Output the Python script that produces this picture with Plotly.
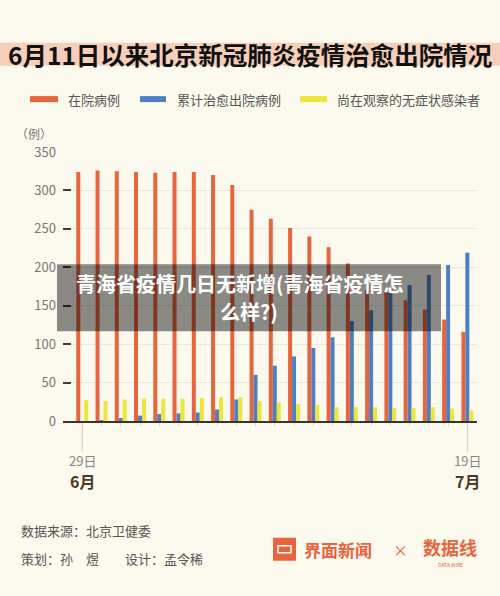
import plotly.graph_objects as go

days = ["29日", "30日", "1日", "2日", "3日", "4日", "5日", "6日", "7日", "8日", "9日",
        "10日", "11日", "12日", "13日", "14日", "15日", "16日", "17日", "18日", "19日"]
hospitalized = [324, 326, 325, 324, 323, 324, 324, 320, 307, 275, 263, 251, 240, 226, 205, 170, 168, 157, 145, 132, 116]
discharged = [0, 1, 4, 7, 9, 10, 11, 15, 28, 60, 72, 84, 95, 109, 130, 144, 167, 177, 190, 203, 219]
asymptomatic = [27, 26, 28, 29, 29, 29, 30, 31, 31, 26, 24, 22, 21, 18, 18, 18, 17, 17, 18, 16, 14]
series_names = ["在院病例", "累计治愈出院病例", "尚在观察的无症状感染者"]
y_ticks = [0, 50, 100, 150, 200, 250, 300, 350]

RED = "#e8643c"
BLUE = "#4d80c2"
YELLOW = "#ede43c"
BG = "#fcf9ee"
FONT = "Noto Sans CJK SC"

x = list(range(len(days)))

# plot area in pixels
L, R, T, B = 63, 477, 151.5, 421
def px(v):
    return (v - L) / (R - L)
def py(v):
    return (B - v) / (B - T)

fig = go.Figure()
for vals, name, col in [(hospitalized, series_names[0], RED),
                        (discharged, series_names[1], BLUE),
                        (asymptomatic, series_names[2], YELLOW)]:
    fig.add_trace(go.Bar(x=x, y=vals, name=name, marker=dict(color=col, line=dict(width=0)),
                         showlegend=False))

shapes = []
annotations = []

# title band
shapes.append(dict(type="rect", xref="paper", yref="paper", x0=px(0), x1=px(500),
                   y0=py(65), y1=py(42), fillcolor="#f6cfbb", line=dict(width=0), layer="below"))
annotations.append(dict(text="<b>6月11日以来北京新冠肺炎疫情治愈出院情况</b>", xref="paper", yref="paper",
                        x=px(250), y=py(54), xanchor="center", yanchor="middle", showarrow=False,
                        font=dict(family=FONT, size=24.5, color="#111111")))

# legend (manual)
leg = [(30, 58, 66, series_names[0], RED), (140, 166, 175, series_names[1], BLUE),
       (300, 327, 335, series_names[2], YELLOW)]
for x0, x1, tx, name, col in leg:
    shapes.append(dict(type="rect", xref="paper", yref="paper", x0=px(x0), x1=px(x1),
                       y0=py(101.5), y1=py(95.5), fillcolor=col, line=dict(width=0)))
    annotations.append(dict(text=name, xref="paper", yref="paper", x=px(tx), y=py(98.5),
                            xanchor="left", yanchor="middle", showarrow=False,
                            font=dict(family=FONT, size=13, color="#555555")))

# unit label
annotations.append(dict(text="（例）", xref="paper", yref="paper", x=px(14), y=py(133),
                        xanchor="left", yanchor="middle", showarrow=False,
                        font=dict(family=FONT, size=12, color="#777777")))

# x labels with leader lines
for idx, month in [(0, "6月"), (len(days) - 1, "7月")]:
    shapes.append(dict(type="line", xref="x", yref="paper", x0=idx, x1=idx,
                       y0=py(423), y1=py(452), line=dict(color="#cfcac0", width=1)))
    annotations.append(dict(text=days[idx], xref="x", yref="paper", x=idx, y=py(461),
                            xanchor="center", yanchor="middle", showarrow=False,
                            font=dict(family=FONT, size=13, color="#888888")))
    annotations.append(dict(text="<b>" + month + "</b>", xref="x", yref="paper", x=idx, y=py(481),
                            xanchor="center", yanchor="middle", showarrow=False,
                            font=dict(family=FONT, size=16, color="#4a3b28")))

# footer
annotations.append(dict(text="数据来源：北京卫健委", xref="paper", yref="paper", x=px(19), y=py(531),
                        xanchor="left", yanchor="middle", showarrow=False,
                        font=dict(family=FONT, size=13, color="#555555")))
annotations.append(dict(text="策划：孙　煜　　设计：孟令稀", xref="paper", yref="paper", x=px(19), y=py(559),
                        xanchor="left", yanchor="middle", showarrow=False,
                        font=dict(family=FONT, size=13, color="#555555")))
# logo
shapes.append(dict(type="rect", xref="paper", yref="paper", x0=px(273), x1=px(296),
                   y0=py(561), y1=py(538), fillcolor="#e8643c", line=dict(width=0)))
shapes.append(dict(type="rect", xref="paper", yref="paper", x0=px(278), x1=px(291),
                   y0=py(553), y1=py(546), fillcolor="rgba(0,0,0,0)", line=dict(width=1.5, color="white")))
annotations.append(dict(text="<b>界面新闻</b>", xref="paper", yref="paper", x=px(302), y=py(550),
                        xanchor="left", yanchor="middle", showarrow=False,
                        font=dict(family=FONT, size=17, color="#e8643c")))
annotations.append(dict(text="×", xref="paper", yref="paper", x=px(400), y=py(550),
                        xanchor="center", yanchor="middle", showarrow=False,
                        font=dict(family=FONT, size=15, color="#e8643c")))
annotations.append(dict(text="<b>数据线</b>", xref="paper", yref="paper", x=px(450), y=py(547),
                        xanchor="center", yanchor="middle", showarrow=False,
                        font=dict(family=FONT, size=18, color="#e8643c")))
annotations.append(dict(text="DATA WIRE", xref="paper", yref="paper", x=px(450), y=py(565),
                        xanchor="center", yanchor="middle", showarrow=False,
                        font=dict(family=FONT, size=5, color="#e8643c")))

# overlay caption box
shapes.append(dict(type="rect", xref="paper", yref="paper", x0=px(57), x1=px(441),
                   y0=py(331), y1=py(264), fillcolor="rgba(0,0,0,0.45)", line=dict(width=0), layer="above"))
annotations.append(dict(text="<b>青海省疫情几日无新增(青海省疫情怎</b>", xref="paper", yref="paper", x=px(240), y=py(283),
                        xanchor="center", yanchor="middle", showarrow=False,
                        font=dict(family=FONT, size=20, color="white")))
annotations.append(dict(text="<b>么样?)</b>", xref="paper", yref="paper", x=px(249), y=py(311),
                        xanchor="center", yanchor="middle", showarrow=False,
                        font=dict(family=FONT, size=20, color="white")))

fig.update_layout(
    width=500, height=596,
    margin=dict(l=L, r=500 - R, t=T, b=596 - B),
    paper_bgcolor=BG, plot_bgcolor=BG,
    barmode="group", bargap=0.38, bargroupgap=0,
    font=dict(family=FONT),
    shapes=shapes, annotations=annotations,
    xaxis=dict(range=[-1, len(days) - 0.5], tickvals=x, ticktext=[""] * len(days),
               ticks="outside", ticklen=3, tickcolor="#d8d3c8", tickwidth=1,
               showgrid=False, showline=True, linecolor="#3b3228", linewidth=2, zeroline=False,
               fixedrange=True),
    yaxis=dict(range=[0, 350], tickvals=y_ticks, ticks="inside", ticklen=8, tickwidth=2,
               tickcolor="#4a3b28", showgrid=True, gridcolor="#ece7da", gridwidth=1,
               zeroline=False, showline=False, ticklabelstandoff=6,
               tickfont=dict(family=FONT, size=13, color="#777777")),
)

fig.write_html("out.html", config={"displayModeBar": False},
               post_script="document.body.style.margin='0';document.body.style.padding='0';"
                           "document.body.style.background='#fcf9ee';")
